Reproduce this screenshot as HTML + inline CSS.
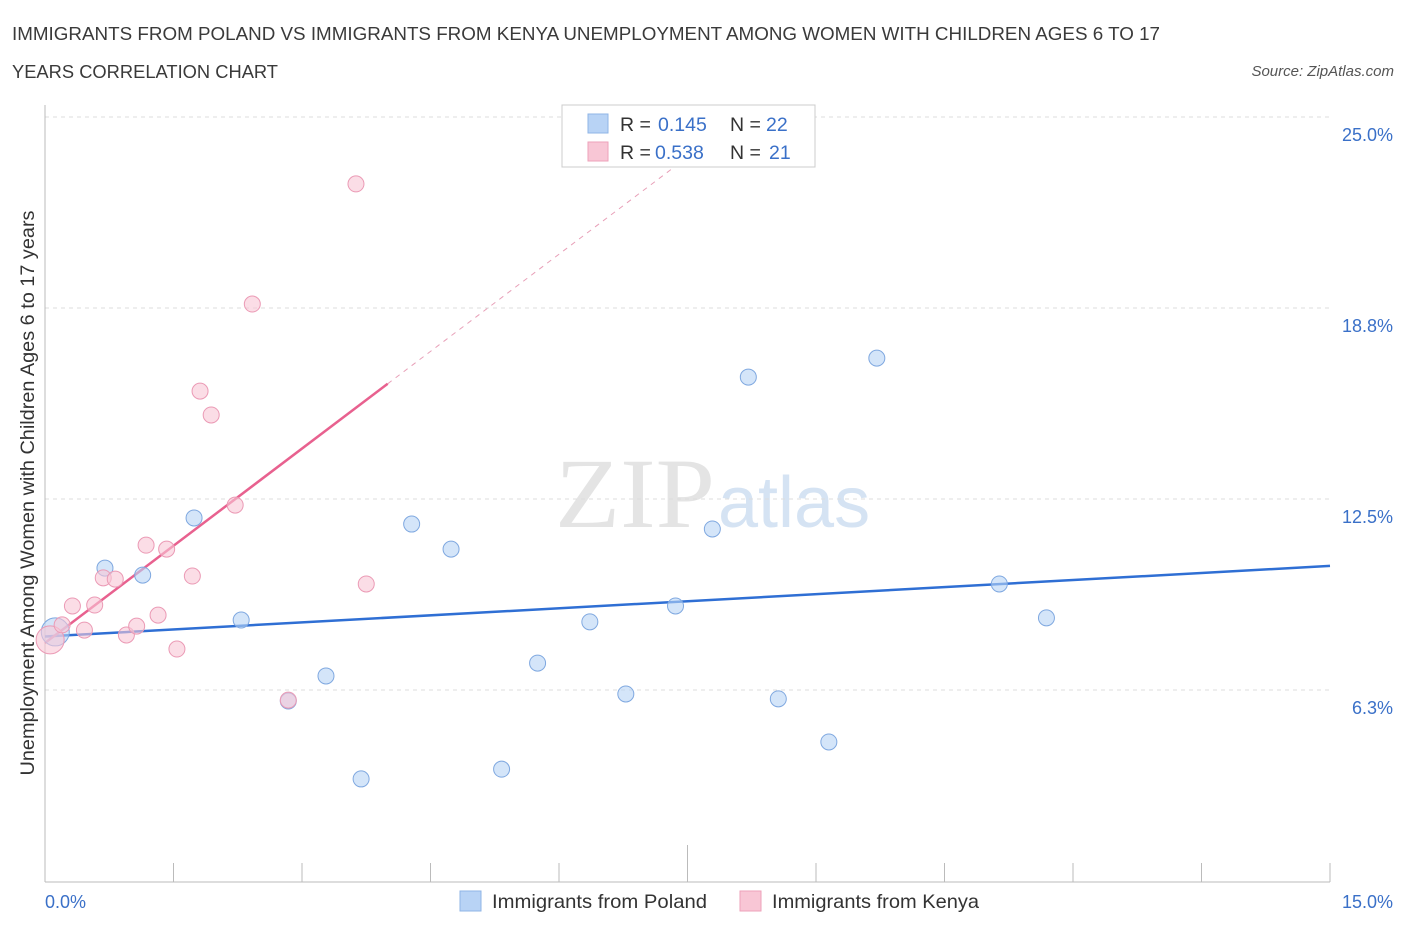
<!DOCTYPE html>
<html><head><meta charset="utf-8"><style>
body{margin:0;background:#fff;font-family:"Liberation Sans",sans-serif}
svg{display:block}
</style></head><body>
<svg width="1406" height="930" xmlns="http://www.w3.org/2000/svg">
<text x="12" y="40" font-size="18.5" fill="#3a3a3a" textLength="1148" lengthAdjust="spacingAndGlyphs">IMMIGRANTS FROM POLAND VS IMMIGRANTS FROM KENYA UNEMPLOYMENT AMONG WOMEN WITH CHILDREN AGES 6 TO 17</text>
<text x="12" y="78" font-size="18.5" fill="#3a3a3a" textLength="266" lengthAdjust="spacingAndGlyphs">YEARS CORRELATION CHART</text>
<text x="1394" y="76" font-size="15" fill="#555" font-style="italic" text-anchor="end">Source: ZipAtlas.com</text>
<text x="555" y="527" font-size="100" fill="#e4e4e4" textLength="160" lengthAdjust="spacingAndGlyphs" font-family="Liberation Serif,serif">ZIP</text>
<text x="718" y="527" font-size="72" fill="#d5e3f3">atlas</text>
<g id="grid"></g><g id="axes"></g><g id="lines"></g><g id="pts"></g>
<text transform="translate(34,493) rotate(-90)" font-size="19" fill="#333" text-anchor="middle" textLength="565" lengthAdjust="spacingAndGlyphs">Unemployment Among Women with Children Ages 6 to 17 years</text>
<text x="45" y="908" font-size="18" fill="#3a70c8">0.0%</text>
<text x="1393" y="908" font-size="18" fill="#3a70c8" text-anchor="end">15.0%</text>
<g>
<rect x="562" y="105" width="253" height="62" fill="#fff" stroke="#ccc"/>
<rect x="588" y="114" width="20" height="19" fill="#b8d3f5" stroke="#8fb4e6"/>
<rect x="588" y="142" width="20" height="19" fill="#f8c6d5" stroke="#eea2ba"/>
<text x="620" y="131" font-size="19.5" fill="#333">R =</text>
<text x="658" y="131" font-size="19.5" fill="#3a70c8">0.145</text>
<text x="730" y="131" font-size="19.5" fill="#333">N =</text>
<text x="766" y="131" font-size="19.5" fill="#3a70c8">22</text>
<text x="620" y="159" font-size="19.5" fill="#333">R =</text>
<text x="655" y="159" font-size="19.5" fill="#3a70c8">0.538</text>
<text x="730" y="159" font-size="19.5" fill="#333">N =</text>
<text x="769" y="159" font-size="19.5" fill="#3a70c8">21</text>
</g>
<g>
<rect x="460" y="891" width="21" height="20" fill="#b8d3f5" stroke="#8fb4e6"/>
<text x="492" y="908" font-size="19.5" fill="#333" textLength="215" lengthAdjust="spacingAndGlyphs">Immigrants from Poland</text>
<rect x="740" y="891" width="21" height="20" fill="#f8c6d5" stroke="#eea2ba"/>
<text x="772" y="908" font-size="19.5" fill="#333" textLength="207" lengthAdjust="spacingAndGlyphs">Immigrants from Kenya</text>
</g>
</svg>
<script>
const yTicks=[6.25,12.5,18.75,25];
const yTickLabels=["6.3%","12.5%","18.8%","25.0%"];
const polandX=[0.12,0.70,1.14,1.74,2.29,2.84,3.28,3.69,4.28,4.74,5.33,5.75,6.36,6.78,7.36,7.79,8.21,8.56,9.15,9.71,11.14,11.69];
const polandY=[8.15,10.24,10.01,11.88,8.54,5.89,6.71,3.34,11.68,10.86,3.66,7.13,8.48,6.12,9.00,11.52,16.49,5.96,4.55,17.11,9.72,8.61];
const kenyaX=[0.06,0.20,0.32,0.46,0.58,0.68,0.82,0.95,1.07,1.18,1.32,1.42,1.54,1.72,1.81,1.94,2.22,2.42,2.84,3.63,3.75];
const kenyaY=[7.89,8.38,9.00,8.21,9.03,9.92,9.88,8.05,8.34,10.99,8.70,10.86,7.59,9.98,16.03,15.25,12.30,18.88,5.92,22.81,9.72];
const polandTrend=[8.0,10.31];
const kenyaTrend=[7.79,2.12];
const NS="http://www.w3.org/2000/svg";
const X=v=>45+v/15*1285, Y=v=>881-v/25*764;
function mk(t,a,p){const e=document.createElementNS(NS,t);for(const k in a)e.setAttribute(k,a[k]);document.getElementById(p).appendChild(e);return e;}
yTicks.forEach((t,i)=>{
 const g=mk('line',{x1:45,x2:1330,y1:Y(t),y2:Y(t),stroke:'#ddd','stroke-dasharray':'4,4'},'grid');
 
 
 const l=mk('text',{x:1393,y:Y(t)+24,'font-size':18,fill:'#3a70c8','text-anchor':'end'},'grid');
 l.textContent=yTickLabels[i];
 
 
});
const ax=mk('line',{x1:45,x2:1330,y1:882,y2:882,stroke:'#bbb'},'axes');


const ay=mk('line',{x1:45,x2:45,y1:105,y2:882,stroke:'#bbb'},'axes');


for(let i=1;i<=10;i++){
 const tk=mk('line',{x1:X(i*1.5),x2:X(i*1.5),y1:i==5?845:863,y2:882,stroke:'#bbb'},'axes');
 
 
}
const bl=mk('line',{x1:X(0),y1:Y(polandTrend[0]),x2:X(15),y2:Y(polandTrend[1]),stroke:'#2f6fd4','stroke-width':2.5},'lines');


const kx=(25-kenyaTrend[0])/kenyaTrend[1];
const kd=mk('line',{x1:X(4),y1:Y(kenyaTrend[0]+4*kenyaTrend[1]),x2:X(kx),y2:Y(25),stroke:'#e8a0b8','stroke-width':1,'stroke-dasharray':'5,5'},'lines');


const kl=mk('line',{x1:X(0),y1:Y(kenyaTrend[0]),x2:X(4),y2:Y(kenyaTrend[0]+4*kenyaTrend[1]),stroke:'#e8618f','stroke-width':2.5},'lines');


polandX.forEach((x,i)=>{
 const c=mk('circle',{cx:X(x),cy:Y(polandY[i]),r:i==0?14:8,fill:'rgba(184,211,245,0.6)',stroke:'#7fa8e0','stroke-width':1},'pts');
 
 
});
kenyaX.forEach((x,i)=>{
 const c=mk('circle',{cx:X(x),cy:Y(kenyaY[i]),r:i==0?14:8,fill:'rgba(248,198,213,0.6)',stroke:'#eb9ab5','stroke-width':1},'pts');
 
 
});
</script>
</body></html>
